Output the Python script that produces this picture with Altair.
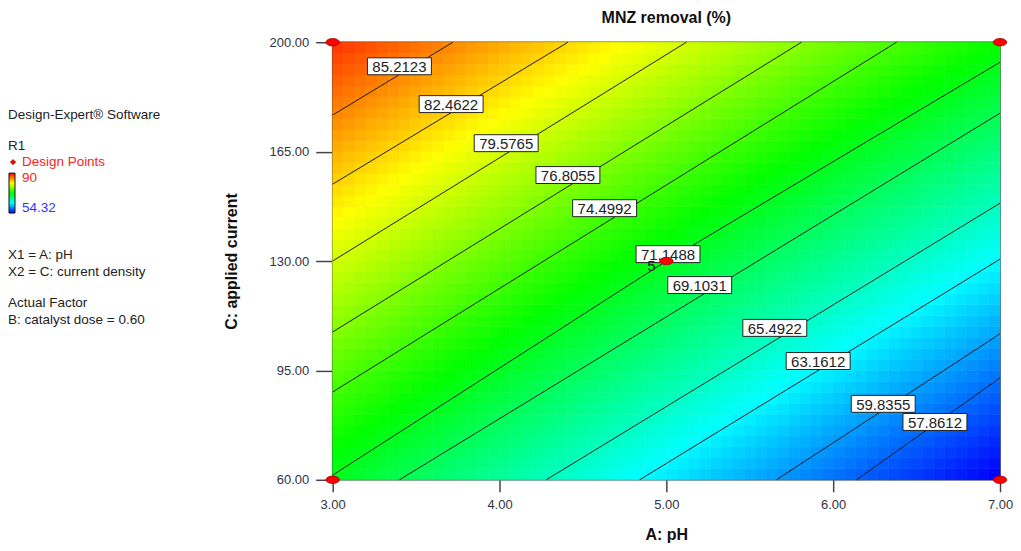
import altair as alt
import numpy as np
import pandas as pd

# ---------------- data ----------------
ph_range = [3.0, 7.0]
current_range = [60.0, 200.0]

# quadratic response surface in coded units (a=(pH-5)/2, c=(C-130)/70),
# estimated from where the contour lines cross the plot edges
# order: intercept, A, C, AC, A^2, C^2
coef = [71.15, -8.25, 8.86, 0.275, 0.18, 0.13]

# colour bar of the reference: 54.32 (blue) .. 90 (red)
color_min = 54.32
color_max = 90.0

contour_levels = ["85.2123", "82.4622", "79.5765", "76.8055", "74.4992", "71.1488",
                  "69.1031", "65.4922", "63.1612", "59.8355", "57.8612"]
contour_ph = [[3.0, 3.72], [3.0, 4.41], [3.0, 5.12], [3.0, 5.81], [3.0, 6.38],
              [3.0, 5.0, 7.0], [3.40, 7.0], [4.28, 7.0], [4.84, 7.0], [5.66, 7.0], [6.14, 7.0]]
contour_cur = [[176.7, 200.0], [154.6, 200.0], [130.0, 200.0], [107.3, 200.0], [88.1, 200.0],
               [61.5, 130.0, 193.6], [60.0, 177.3], [60.0, 148.5], [60.0, 130.6], [60.0, 106.7], [60.0, 92.6]]
label_ph = [3.40, 3.71, 4.04, 4.41, 4.63, 5.01, 5.20, 5.65, 5.91, 6.30, 6.61]
label_cur = [192.3, 180.2, 167.7, 157.5, 146.9, 132.2, 122.3, 108.6, 98.0, 84.3, 78.5]

design_ph = [3.0, 3.0, 7.0, 7.0, 5.0]
design_cur = [60.0, 200.0, 60.0, 200.0, 130.0]

x_ticks = [3, 4, 5, 6, 7]
y_ticks = [60, 95, 130, 165, 200]

n_ph_cells = 60
n_cur_cells = 40

# ---------------- tables ----------------
ph_edges = np.linspace(ph_range[0], ph_range[1], n_ph_cells + 1)
cur_edges = np.linspace(current_range[0], current_range[1], n_cur_cells + 1)
rows = []
for i in range(n_ph_cells):
    for j in range(n_cur_cells):
        pm = 0.5 * (ph_edges[i] + ph_edges[i + 1])
        cm = 0.5 * (cur_edges[j] + cur_edges[j + 1])
        a = (pm - 5.0) / 2.0
        c = (cm - 130.0) / 70.0
        v = coef[0] + coef[1] * a + coef[2] * c + coef[3] * a * c + coef[4] * a * a + coef[5] * c * c
        rows.append({"ph": ph_edges[i], "ph2": ph_edges[i + 1],
                     "cur": cur_edges[j], "cur2": cur_edges[j + 1], "val": v})
grid = pd.DataFrame(rows)

line_rows = []
for lev, phs, curs in zip(contour_levels, contour_ph, contour_cur):
    for k, (p, cc) in enumerate(zip(phs, curs)):
        line_rows.append({"level": lev, "ph": p, "cur": cc, "order": k})
lines_df = pd.DataFrame(line_rows)

labels_df = pd.DataFrame({"level": contour_levels, "ph": label_ph, "cur": label_cur})
design_df = pd.DataFrame({"ph": design_ph, "cur": design_cur})
center_df = pd.DataFrame({"ph": [5.0], "cur": [130.0], "n": ["5"]})

# ---------------- styling ----------------
FONT = "Liberation Sans"
stops_dom = [color_min + k * (color_max - color_min) / 4 for k in range(5)]
rainbow = ["#0000ff", "#00ffff", "#00ff00", "#ffff00", "#ff0000"]

xs = alt.Scale(domain=ph_range, nice=False, zero=False)
ys = alt.Scale(domain=current_range, nice=False, zero=False)
cs = alt.Scale(domain=stops_dom, range=rainbow, clamp=True, interpolate="rgb")

x_axis = alt.Axis(values=x_ticks, format=".2f", title="A: pH", grid=False, domain=False,
                  labelFlush=False,
                  tickSize=12, tickColor="#444", tickWidth=1.5, labelPadding=7,
                  labelFont=FONT, labelFontSize=13, labelColor="#333344",
                  titleFont=FONT, titleFontSize=16, titleFontWeight="bold", titleColor="#111",
                  titlePadding=15)
y_axis = alt.Axis(values=y_ticks, format=".2f", title="C: applied current", grid=False, domain=False,
                  labelFlush=False,
                  tickSize=17, tickColor="#444", tickWidth=1.5, labelPadding=7,
                  labelFont=FONT, labelFontSize=13, labelColor="#333344",
                  titleFont=FONT, titleFontSize=16, titleFontWeight="bold", titleColor="#111",
                  titlePadding=30)

heat = alt.Chart(grid).mark_rect(strokeWidth=0.6).encode(
    x=alt.X("ph:Q", scale=xs, axis=x_axis),
    x2="ph2:Q",
    y=alt.Y("cur:Q", scale=ys, axis=y_axis),
    y2="cur2:Q",
    fill=alt.Fill("val:Q", scale=cs, legend=None),
    stroke=alt.Stroke("val:Q", scale=cs, legend=None),
)

contours = alt.Chart(lines_df).mark_line(color="#1a1a1a", strokeWidth=1).encode(
    x="ph:Q", y="cur:Q", detail="level:N", order="order:Q"
)

box_path = "M-1,-0.265L1,-0.265L1,0.265L-1,0.265Z"
boxes = alt.Chart(labels_df).mark_point(
    shape=box_path, size=4096, filled=True, fill="white", stroke="#222", strokeWidth=1, opacity=1
).encode(x="ph:Q", y="cur:Q")
box_text = alt.Chart(labels_df).mark_text(
    font=FONT, fontSize=15, color="#222", baseline="middle", align="center", dy=1
).encode(x="ph:Q", y="cur:Q", text="level:N")

ellipse = "M-1,0A1,0.55,0,1,1,1,0A1,0.55,0,1,1,-1,0Z"
points = alt.Chart(design_df).mark_point(
    shape=ellipse, size=180, filled=True, fill="#ff0000", stroke="#990000", strokeWidth=0.8, opacity=1
).encode(x="ph:Q", y="cur:Q")
center_lab = alt.Chart(center_df).mark_text(
    font=FONT, fontSize=15, color="#222", dx=-15, dy=5
).encode(x="ph:Q", y="cur:Q", text="n:N")

one = pd.DataFrame({"k": [0]})


def txt(s, x, y, color="#222", size=13.5, weight="normal", align="left"):
    return alt.Chart(one).mark_text(
        font=FONT, fontSize=size, fontWeight=weight, color=color, align=align, baseline="middle"
    ).encode(x=alt.value(x), y=alt.value(y), text=alt.value(s))


title = txt("MNZ removal (%)", 334, -24, color="#111", size=16, weight="bold", align="center")

side = [
    txt("Design-Expert\u00ae Software", -325, 73),
    txt("R1", -325, 104),
    txt("Design Points", -311, 120, color="#ff2020"),
    txt("90", -311, 136, color="#ff2020"),
    txt("54.32", -311, 166, color="#3333ff"),
    txt("X1 = A: pH", -325, 213),
    txt("X2 = C: current density", -325, 230),
    txt("Actual Factor", -325, 261),
    txt("B: catalyst dose = 0.60", -325, 278),
]
diamond = alt.Chart(one).mark_point(
    shape="diamond", size=30, filled=True, fill="#ff0000", stroke="#880000", strokeWidth=0.6, opacity=1
).encode(x=alt.value(-320), y=alt.value(120))
cbar = alt.Chart(one).mark_rect(
    fill=alt.Gradient(
        gradient="linear", x1=0, x2=0, y1=0, y2=1,
        stops=[alt.GradientStop(color="#ff0000", offset=0),
               alt.GradientStop(color="#ffff00", offset=0.25),
               alt.GradientStop(color="#00ff00", offset=0.5),
               alt.GradientStop(color="#00ffff", offset=0.75),
               alt.GradientStop(color="#0000ff", offset=1)]),
    stroke="#111", strokeWidth=1
).encode(x=alt.value(-324), x2=alt.value(-318), y=alt.value(131), y2=alt.value(171))

chart = alt.layer(
    heat, contours, boxes, box_text, points, center_lab, title, diamond, cbar, *side
).properties(
    width=668, height=438,
    padding={"left": 0, "top": 2, "right": 0, "bottom": 0},
).configure_view(stroke="#444", strokeWidth=1.5)

chart.save("out.html", embed_options={"renderer": "svg", "actions": False})
